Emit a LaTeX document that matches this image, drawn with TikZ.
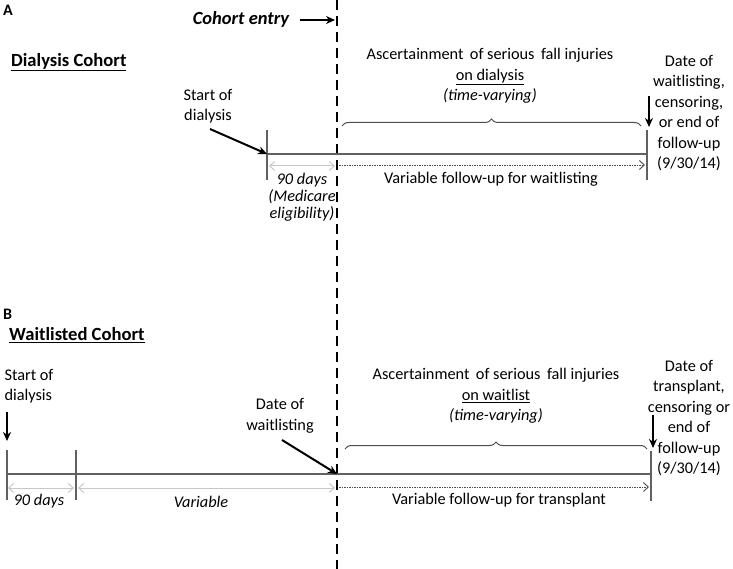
\documentclass[tikz,border=0pt]{standalone}
\usepackage{fontspec}
\setmainfont{Carlito}
\usetikzlibrary{arrows.meta,decorations.pathreplacing}
\begin{document}
\begin{tikzpicture}[x=1pt,y=-1pt,
  txt/.style={font=\fontsize{16.3}{20.5}\selectfont, align=center, inner sep=0pt},
  itx/.style={font=\fontsize{16.3}{17}\selectfont\itshape, align=center, inner sep=0pt},
  ttl/.style={font=\fontsize{18.6}{21}\selectfont\bfseries, inner sep=0pt, anchor=west},
  panel/.style={font=\fontsize{16}{18}\selectfont\bfseries, inner sep=0pt, anchor=west},
  tline/.style={draw=black!62, line width=2.4pt},
  tick/.style={draw=black!62, line width=2pt},
  blk/.style={draw=black, line width=2pt, -{Stealth[length=9pt,width=8pt]}},
  gry/.style={draw=black!22, line width=1pt, {Straight Barb[length=5pt,width=9pt]}-{Straight Barb[length=5pt,width=9pt]}},
  dots/.style={draw=black!70, line width=0.9pt, dash pattern=on 1.5pt off 1pt, -{Straight Barb[length=5pt,width=9pt]}},
  brc/.style={draw=black!70, line width=1pt, decorate, decoration={brace, amplitude=7pt}}
]
\useasboundingbox (0,0) rectangle (733,569);
\fill[white] (0,0) rectangle (733,569);

% dashed cohort entry line
\coordinate (dtop) at (337,0);
\coordinate (dbot) at (337,569);
\draw[black, line width=2.8pt, dash pattern=on 10pt off 6pt] (dtop) -- (dbot);

% ---------- Panel A ----------
\node[panel] (A) at (3,10) {A};
\node[font=\fontsize{18.5}{21}\selectfont\bfseries\itshape, inner sep=0pt] (ce) at (241,19) {Cohort entry};
\coordinate (cestart) at (300,20);
\coordinate (ceend) at (335,20);
\draw[blk] (cestart) -- (ceend);
\node[ttl] (dc) at (11,62) {\underline{Dialysis Cohort}};

\coordinate (a0) at (267,154);
\coordinate (a1) at (337,154);
\coordinate (a2) at (647,154);
\draw[tline] (a0) -- (a2);
\draw[tick] (267,130) coordinate (a0t) -- (267,180) coordinate (a0b);
\draw[tick] (647,130) coordinate (a2t) -- (647,180) coordinate (a2b);

\node[txt] (sda) at (208,106) {Start of\\dialysis};
\coordinate (sdaa) at (210,129);
\draw[blk] (sdaa) -- (a0);

\coordinate (g1l) at (269,166);
\coordinate (g1r) at (335,166);
\draw[gry] (g1l) -- (g1r);
\node[itx] (ninety) at (302,197) {90 days\\(Medicare\\eligibility)};

\coordinate (f1l) at (339,165);
\coordinate (f1r) at (645,165);
\draw[dots] (f1l) -- (f1r);
\node[txt] (vfa) at (491,179) {Variable follow-up for waitlisting};

\coordinate (b1l) at (342,126);
\coordinate (b1r) at (641,126);
\draw[brc] (b1l) -- (b1r);
\node[txt] (asca) at (490,76) {Ascertainment \,of serious \,fall injuries\\\underline{on dialysis}\\\textit{(time-varying)}};

\node[txt] (enda) at (689,113) {Date of\\waitlisting,\\censoring,\\or end of\\follow-up\\(9/30/14)};
\coordinate (dat) at (649,96);
\coordinate (dab) at (649,127);
\draw[blk] (dat) -- (dab);

% ---------- Panel B ----------
\node[panel] (B) at (3,314) {B};
\node[ttl] (wc) at (9,335) {\underline{Waitlisted Cohort}};

\coordinate (w0) at (7,474);
\coordinate (w1) at (76,474);
\coordinate (w2) at (337,474);
\coordinate (w3) at (651,474);
\draw[tline] (w0) -- (w3);
\draw[tick] (7,450) coordinate (w0t) -- (7,500) coordinate (w0b);
\draw[tick] (76,450) coordinate (w1t) -- (76,500) coordinate (w1b);
\draw[tick] (651,451) coordinate (w3t) -- (651,501) coordinate (w3b);

\node[txt, align=left] (sdb) at (29,386) {Start of\\dialysis};
\coordinate (sdbt) at (7,412);
\coordinate (sdbb) at (7,441);
\draw[blk] (sdbt) -- (sdbb);

\coordinate (g2l) at (8,488);
\coordinate (g2r) at (74,488);
\draw[gry] (g2l) -- (g2r);
\coordinate (g3l) at (78,488);
\coordinate (g3r) at (335,488);
\draw[gry] (g3l) -- (g3r);
\node[itx] (nb) at (39,501) {90 days};
\node[itx] (vb) at (201,502) {Variable};

\node[txt] (dw) at (280,416) {Date of\\waitlisting};
\coordinate (dwa) at (282,440);
\draw[blk] (dwa) -- (w2);

\coordinate (f2l) at (339,487);
\coordinate (f2r) at (649,487);
\draw[dots] (f2l) -- (f2r);
\node[txt] (vfb) at (499,500) {Variable follow-up for transplant};

\coordinate (b2l) at (345,449);
\coordinate (b2r) at (647,449);
\draw[brc] (b2l) -- (b2r);
\node[txt] (ascb) at (496,396) {Ascertainment \,of serious \,fall injuries\\\underline{on waitlist}\\\textit{(time-varying)}};

\node[txt] (endb) at (689,418) {Date of\\transplant,\\censoring or\\end of\\follow-up\\(9/30/14)};
\coordinate (dbt) at (653,415);
\coordinate (dbb) at (653,448);
\draw[blk] (dbt) -- (dbb);
\end{tikzpicture}
\end{document}
